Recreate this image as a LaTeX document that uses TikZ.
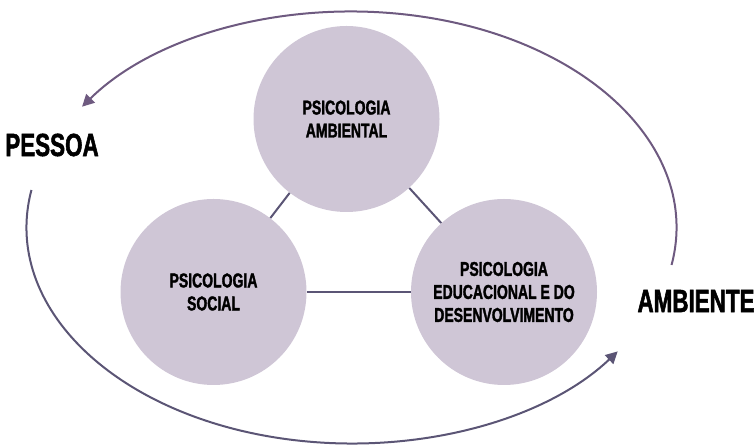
\documentclass[tikz,border=0pt]{standalone}
\usepackage{fontspec}
\setmainfont{Liberation Sans}[FakeStretch=0.7, BoldFeatures={FakeBold=1.6}]
\usepackage{tikz}
\usetikzlibrary{arrows.meta, calc}
\definecolor{psiFill}{RGB}{207,198,214}
\definecolor{psiLine}{RGB}{91,85,117}
\definecolor{psiArc}{RGB}{110,90,128}
\tikzset{
  field/.style={circle, fill=psiFill, minimum size=139.5pt, inner sep=0pt, align=center,
    font=\bfseries\fontsize{15}{17.25}\selectfont},
  link/.style={line width=1.5pt, psiLine},
  flow/.style={line width=1.5pt, -{Triangle[length=9pt,width=9pt]}},
  pole/.style={font=\bfseries\fontsize{24}{28}\selectfont}
}

\begin{document}
\begin{tikzpicture}[x=0.75pt, y=0.75pt]
  \useasboundingbox (0,0) rectangle (756,445);

  \node[field] (amb) at (346.5,326) {PSICOLOGIA\\AMBIENTAL};
  \node[field] (soc) at (213.5,153) {PSICOLOGIA\\SOCIAL};
  \node[field] (edu) at (504,153) {PSICOLOGIA\\EDUCACIONAL E DO\\DESENVOLVIMENTO};
  \draw[link] (amb) -- (soc);
  \draw[link] (amb) -- (edu);
  \draw[link] (soc) -- (edu);

  % outer cycle
  \coordinate (ring) at (351.5,217.5);
  \draw[flow, psiArc] ($(ring)+(-10:325 and 216)$) arc[start angle=-10, end angle=146, x radius=325, y radius=216];
  \draw[flow, psiLine] ($(ring)+(170:325 and 216)$) arc[start angle=170, end angle=325, x radius=325, y radius=216];

  \node[pole] (pessoa) at (52,300) {PESSOA};
  \node[pole] (ambiente) at (696,144) {AMBIENTE};
\end{tikzpicture}
\end{document}
